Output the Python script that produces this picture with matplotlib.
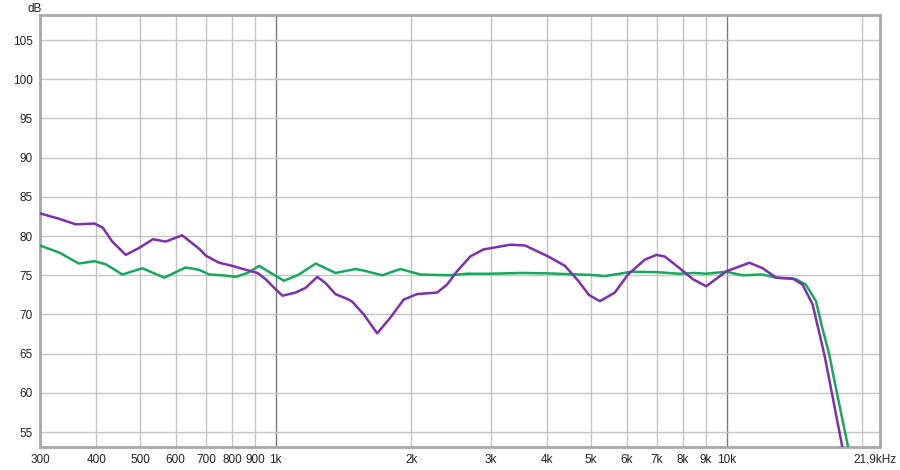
import matplotlib
matplotlib.use("Agg")
import matplotlib.pyplot as plt
from matplotlib.ticker import FixedLocator, NullLocator

# ---- data ----
purple_freq = [300, 331, 360, 396, 413, 434, 465, 498, 534, 570, 620, 676, 700, 749,
               802, 858, 911, 950, 1000, 1035, 1107, 1165, 1237, 1290, 1357, 1453,
               1480, 1568, 1679, 1796, 1922, 2058, 2280, 2398, 2523, 2701, 2889, 3094,
               3311, 3573, 4023, 4382, 4688, 4950, 5236, 5652, 6046, 6588, 6990, 7293,
               7870, 8423, 9017, 9985, 11240, 12030, 12880, 14020, 14750, 15520, 16480,
               16900, 18080, 18300]
purple_db = [82.9, 82.2, 81.5, 81.6, 81.1, 79.3, 77.6, 78.5, 79.6, 79.3, 80.1, 78.4, 77.5, 76.6,
             76.2, 75.7, 75.3, 74.5, 73.2, 72.4, 72.8, 73.4, 74.8, 74.0, 72.6, 71.9,
             71.6, 70.0, 67.6, 69.6, 71.9, 72.6, 72.8, 73.8, 75.5, 77.4, 78.3, 78.6,
             78.9, 78.8, 77.4, 76.2, 74.3, 72.5, 71.7, 72.8, 75.1, 77.0, 77.6, 77.4,
             75.9, 74.5, 73.6, 75.5, 76.6, 75.9, 74.7, 74.6, 73.8, 71.3, 64.9,
             61.7, 53.0, 51.5]

green_freq = [300, 331, 366, 396, 420, 457, 506, 566, 631, 676, 712, 763, 816, 866,
              919, 975, 1043, 1126, 1226, 1357, 1503, 1568, 1722, 1890, 2094, 2438,
              2654, 3000, 3500, 4000, 5000, 5370, 6152, 7000, 7870, 8500, 9000, 9985,
              10870, 12000, 12880, 14260, 15000, 15790, 16340, 16900, 17330, 18620, 18900]
green_db = [78.8, 77.9, 76.5, 76.8, 76.4, 75.1, 75.9, 74.7, 76.0, 75.7, 75.1, 75.0, 74.8, 75.3,
            76.2, 75.3, 74.3, 75.1, 76.5, 75.3, 75.8, 75.6, 75.0, 75.8, 75.1, 75.0,
            75.2, 75.2, 75.3, 75.25, 75.05, 74.9, 75.45, 75.4, 75.2, 75.3, 75.2, 75.45,
            75.0, 75.1, 74.7, 74.5, 73.8, 71.7, 68.1, 64.9, 61.7, 53.0, 51.5]

x_ticks = [300, 400, 500, 600, 700, 800, 900, 1000, 2000, 3000, 4000, 5000,
           6000, 7000, 8000, 9000, 10000]
x_labels = ["300", "400", "500", "600", "700", "800", "900", "1k", "2k", "3k", "4k", "5k",
            "6k", "7k", "8k", "9k", "10k"]
x_end_label = "21,9kHz"
x_grid = [400, 500, 600, 700, 800, 900, 2000, 3000, 4000, 5000, 6000, 7000, 8000,
          9000, 20000]
x_dark_grid = [1000, 10000]
y_ticks = [55, 60, 65, 70, 75, 80, 85, 90, 95, 100, 105]

plt.rcParams['font.family'] = ['Liberation Sans', 'DejaVu Sans']

fig = plt.figure(figsize=(9, 4.7), dpi=100)
ax = fig.add_axes([40 / 900, 23 / 470, 840 / 900, 432 / 470])
ax.set_xscale('log')
ax.set_xlim(300, 21900)
ax.set_ylim(53.1, 108.2)

for g in x_grid:
    ax.axvline(g, color='#c4c4c4', lw=1.0, zorder=1)
for g in x_dark_grid:
    ax.axvline(g, color='#7a7a7a', lw=1.0, zorder=1)
for y in y_ticks:
    ax.axhline(y, color='#c4c4c4', lw=1.0, zorder=1)

ax.plot(green_freq, green_db, color='#16a85c', lw=1.8, zorder=3,
        solid_joinstyle='round', solid_capstyle='round')
ax.plot(purple_freq, purple_db, color='#7e2fae', lw=1.8, zorder=4,
        solid_joinstyle='round', solid_capstyle='round')

ax.xaxis.set_major_locator(FixedLocator(x_ticks))
ax.xaxis.set_minor_locator(NullLocator())
ax.set_xticklabels(x_labels)
ax.set_yticks(y_ticks)
ax.set_yticklabels([str(v) for v in y_ticks])
ax.tick_params(axis='both', length=0, labelsize=8.5, colors='#222222')
ax.tick_params(axis='x', pad=5)
ax.tick_params(axis='y', pad=5)

for s in ax.spines.values():
    s.set_color('#a8a8a8')
    s.set_linewidth(2.0)

fig.text(897 / 900, 1 - 454 / 470, x_end_label, fontsize=8.5, color='#222222',
         ha='right', va='top')
fig.text(27 / 900, 1 - 9 / 470, 'dB', fontsize=8.5, color='#222222',
         ha='left', va='center')

fig.savefig('out.png', dpi=100, facecolor='white')
